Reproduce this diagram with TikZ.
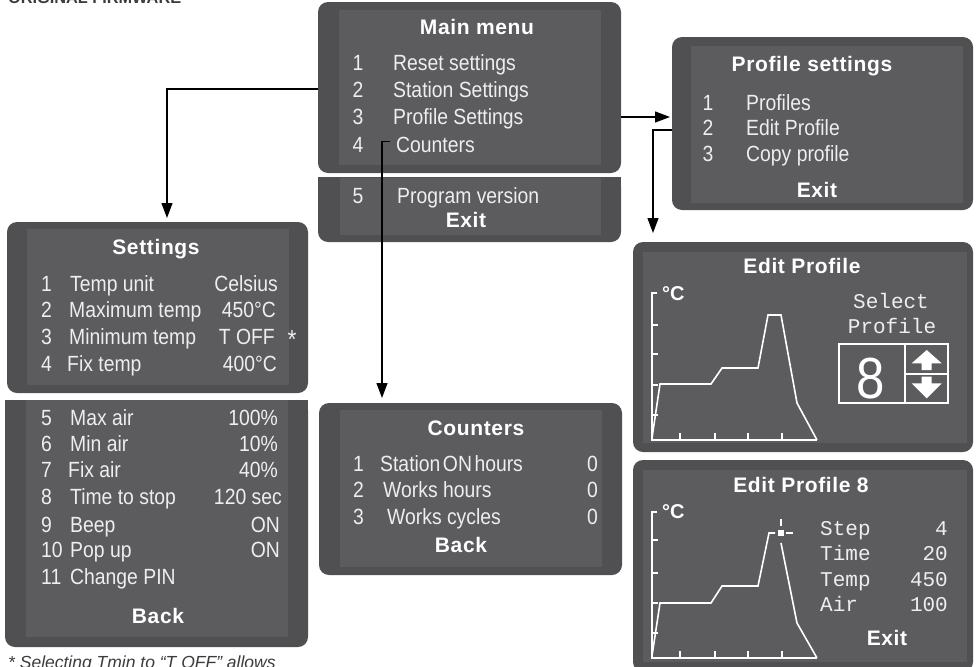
\documentclass[tikz,border=0pt]{standalone}
\usepackage{fontspec}
\setmainfont{Liberation Sans}
\newfontfamily\lcd[FakeStretch=0.88]{Liberation Sans}
\newfontfamily\hdr[LetterSpace=3]{Liberation Sans}
\newfontfamily\mono{Liberation Mono}
\usetikzlibrary{arrows.meta,fit}
\definecolor{outerc}{RGB}{80,80,82}
\definecolor{innerc}{RGB}{92,92,94}
\definecolor{txtc}{RGB}{238,238,238}
\definecolor{notec}{RGB}{60,60,60}
\tikzset{
 panelbox/.style={fill=outerc, rounded corners=10pt, inner sep=0pt, outer sep=0pt},
 innerbox/.style={fill=innerc, inner sep=0pt, outer sep=0pt},
 itm/.style={text=txtc, font=\lcd\fontsize{22}{24}\selectfont, inner sep=0pt, anchor=base west},
 val/.style={itm, anchor=base east},
 num/.style={itm},
 ttl/.style={text=white, font=\hdr\bfseries\fontsize{21}{24}\selectfont, inner sep=0pt, anchor=base},
 mon/.style={text=txtc, font=\mono\fontsize{21}{24}\selectfont, inner sep=0pt},
 conn/.style={draw=black, line width=1.2pt, -{Triangle[length=15pt,width=11pt]}},
 gline/.style={draw=white, line width=1.6pt, line join=miter},
 degc/.style={text=white, font=\bfseries\fontsize{20}{20}\selectfont, inner sep=0pt, anchor=base west},
}
\begin{document}
\begin{tikzpicture}[x=1pt,y=-1pt]
\useasboundingbox (0,0) rectangle (978,667);
\clip (0,0) rectangle (978,667);
\fill[white] (0,0) rectangle (978,667);

% clipped heading fragment
\node[font=\bfseries\fontsize{16.3}{18}\selectfont, text=notec, inner sep=0pt, anchor=base west] (head) at (8,3) {ORIGINAL FIRMWARE};

% ---------------- Main menu ----------------
\node[panelbox, fit={(318,2) (621,173)}] (mainP) {};
\node[innerbox, fit={(339,10) (601,165)}] (mainI) {};
\node[panelbox, fit={(318,177) (621,242)}] (mainL) {};
\fill[outerc] (mainL.north west) rectangle ([yshift=-14pt]mainL.north east);
\node[innerbox, fit={(340,178) (601,235)}] (mainLI) {};
\node[ttl] (mainT) at (477,34) {Main menu};
\node[num, anchor=base] (m1n) at (358,70) {1};
\node[num, anchor=base] (m2n) at (358,97) {2};
\node[num, anchor=base] (m3n) at (358,124) {3};
\node[num, anchor=base] (m4n) at (358,152) {4};
\node[itm] (m1) at (393,70) {Reset settings};
\node[itm] (m2) at (393,97) {Station Settings};
\node[itm] (m3) at (393,124) {Profile Settings};
\node[itm] (m4) at (396,152) {Counters};
\node[num, anchor=base] (m5n) at (358,203) {5};
\node[itm] (m5) at (397,203) {Program version};
\node[ttl] (mexit) at (466,227) {Exit};

% ---------------- Profile settings ----------------
\node[panelbox, fit={(672,37) (973,210)}] (profP) {};
\node[innerbox, fit={(691,46) (963,203)}] (profI) {};
\node[ttl] (profT) at (812,71) {Profile settings};
\node[num, anchor=base] (p1n) at (708,110) {1};
\node[num, anchor=base] (p2n) at (708,135) {2};
\node[num, anchor=base] (p3n) at (708,161) {3};
\node[itm] (p1) at (746,110) {Profiles};
\node[itm] (p2) at (746,135) {Edit Profile};
\node[itm] (p3) at (746,161) {Copy profile};
\node[ttl] (pexit) at (817,197) {Exit};

% ---------------- Settings ----------------
\node[panelbox, fit={(7,222) (308,393)}] (setP) {};
\node[innerbox, fit={(27,229) (289,385)}] (setI) {};
\node[ttl] (setT) at (156,254) {Settings};
\node[num] (s1n) at (41,291) {1};
\node[num] (s2n) at (41,317) {2};
\node[num] (s3n) at (41,344) {3};
\node[num] (s4n) at (41,371) {4};
\node[itm] (s1) at (70,291) {Temp unit};
\node[itm] (s2) at (69,317) {Maximum temp};
\node[itm] (s3) at (69,344) {Minimum temp};
\node[itm] (s4) at (67,371) {Fix temp};
\node[val] (s1v) at (278,291) {Celsius};
\node[val] (s2v) at (276,317) {450°C};
\node[val] (s3v) at (275,344) {T OFF};
\node[val] (s4v) at (277,371) {400°C};
\node[text=txtc, font=\lcd\fontsize{26}{26}\selectfont, inner sep=0pt] (star) at (292,340) {*};

\node[panelbox, fit={(5,400) (308,647)}] (setL) {};
\fill[outerc] (setL.north west) rectangle ([yshift=-14pt]setL.north east);
\node[innerbox, fit={(26,400) (288,637)}] (setLI) {};
\node[num] (s5n) at (41,425) {5};
\node[num] (s6n) at (41,451) {6};
\node[num] (s7n) at (41,477) {7};
\node[num] (s8n) at (41,504) {8};
\node[num] (s9n) at (41,532) {9};
\node[num] (s10n) at (41,557) {10};
\node[num] (s11n) at (41,584) {11};
\node[itm] (s5) at (70,425) {Max air};
\node[itm] (s6) at (70,451) {Min air};
\node[itm] (s7) at (68,477) {Fix air};
\node[itm] (s8) at (70,504) {Time to stop};
\node[itm] (s9) at (70,532) {Beep};
\node[itm] (s10) at (70,557) {Pop up};
\node[itm] (s11) at (70,584) {Change PIN};
\node[val] (s5v) at (278,425) {100\%};
\node[val] (s6v) at (278,451) {10\%};
\node[val] (s7v) at (278,477) {40\%};
\node[val] (s8v) at (282,504) {120 sec};
\node[val] (s9v) at (280,532) {ON};
\node[val] (s10v) at (280,557) {ON};
\node[ttl] (sback) at (158,623) {Back};

% ---------------- Counters ----------------
\node[panelbox, fit={(319,403) (622,575)}] (cntP) {};
\node[innerbox, fit={(340,410) (602,567)}] (cntI) {};
\node[ttl] (cntT) at (476,435) {Counters};
\node[num] (c1n) at (353,471) {1};
\node[num] (c2n) at (353,497) {2};
\node[num] (c3n) at (353,524) {3};
\node[itm] (c1) at (380,471) {Station\hspace{2.5pt}ON\hspace{2.5pt}hours};
\node[itm] (c2) at (383,497) {Works hours};
\node[itm] (c3) at (387,524) {Works cycles};
\node[val] (c1v) at (598,471) {0};
\node[val] (c2v) at (598,497) {0};
\node[val] (c3v) at (598,524) {0};
\node[ttl] (cback) at (461,552) {Back};

% ---------------- Edit Profile ----------------
\node[panelbox, fit={(633,242) (973,452)}] (edP) {};
\node[innerbox, fit={(643,252) (967,443)}] (edI) {};
\node[ttl] (edT) at (802,273) {Edit Profile};
\node[degc] (edC) at (662,300) {°C};
\draw[gline] (657,293) -- (652,293) -- (652,440) -- (817,440);
\foreach \yy in {325,354,385,415} \draw[gline] (652,\yy) -- (658,\yy);
\foreach \xx in {680,715,748,782} \draw[gline] (\xx,440) -- (\xx,433);
\draw[gline] (652,438) -- (660,384) -- (711,384) -- (722,368) -- (758,368) -- (768,315) -- (781,315) -- (797,403) -- (817,440);
\node[mon, anchor=base] (sel1) at (891,308) {Select};
\node[mon, anchor=base] (sel2) at (892,333) {Profile};
\draw[white, line width=1.3pt] (839,344) rectangle (948,403);
\draw[white, line width=1.3pt] (905,344) -- (905,403);
\draw[white, line width=1.3pt] (905,374) -- (948,374);
\node[text=white, font=\lcd\fontsize{58}{58}\selectfont, inner sep=0pt, anchor=base] (big8) at (871,398) {8};
\fill[white] (926.7,350) -- (941.7,363.3) -- (931.7,363.3) -- (931.7,370) -- (921.7,370) -- (921.7,363.3) -- (911.7,363.3) -- cycle;
\fill[white] (926.7,398.3) -- (941.7,383.3) -- (931.7,383.3) -- (931.7,376.7) -- (921.7,376.7) -- (921.7,383.3) -- (911.7,383.3) -- cycle;

% ---------------- Edit Profile 8 ----------------
\node[panelbox, fit={(633,460) (973,672)}] (ed8P) {};
\node[innerbox, fit={(643,470) (967,662)}] (ed8I) {};
\node[ttl] (ed8T) at (801,492) {Edit Profile 8};
\node[degc] (ed8C) at (662,518) {°C};
\draw[gline] (657,512) -- (652,512) -- (652,658) -- (817,658);
\foreach \yy in {540,573,603,633} \draw[gline] (652,\yy) -- (658,\yy);
\foreach \xx in {680,715,748,782} \draw[gline] (\xx,658) -- (\xx,651);
\draw[gline] (652,656) -- (660,603) -- (711,603) -- (722,586) -- (758,586) -- (769,533) -- (775,533);
\fill[white] (778,530) rectangle (783.5,535.5);
\draw[white, line width=1.3pt] (781,519) -- (781,526);
\draw[white, line width=1.3pt] (786,533) -- (793,533);
\draw[gline] (781,543) -- (797,623) -- (817,658);
\node[mon, anchor=base west] (st) at (820,535) {Step};
\node[mon, anchor=base west] (ti) at (820,560) {Time};
\node[mon, anchor=base west] (te) at (820,586) {Temp};
\node[mon, anchor=base west] (ai) at (820,611) {Air};
\node[mon, anchor=base east] (stv) at (948,535) {4};
\node[mon, anchor=base east] (tiv) at (948,560) {20};
\node[mon, anchor=base east] (tev) at (948,586) {450};
\node[mon, anchor=base east] (aiv) at (948,611) {100};
\node[ttl] (ed8exit) at (887,645) {Exit};

% ---------------- footnote ----------------
\node[font=\itshape\fontsize{17.5}{18}\selectfont, text=notec, inner sep=0pt, anchor=base west] (note) at (8,668) {* Selecting Tmin to “T OFF” allows};

% ---------------- connectors ----------------
\draw[conn, shorten >=4pt] (mainP.west |- 0,89) -| (setP.north -| 167,0);
\draw[conn, shorten >=5pt] ([xshift=-6pt,yshift=3pt]m4.west) -- ++(-8,0) -- (cntP.north -| 382,0);
\draw[conn, shorten >=2pt] (mainP.east |- 0,117) -- (profP.west |- 0,117);
\draw[conn, shorten >=9pt] (profP.west |- 0,130) -| (edP.north -| 653,0);
\end{tikzpicture}
\end{document}
